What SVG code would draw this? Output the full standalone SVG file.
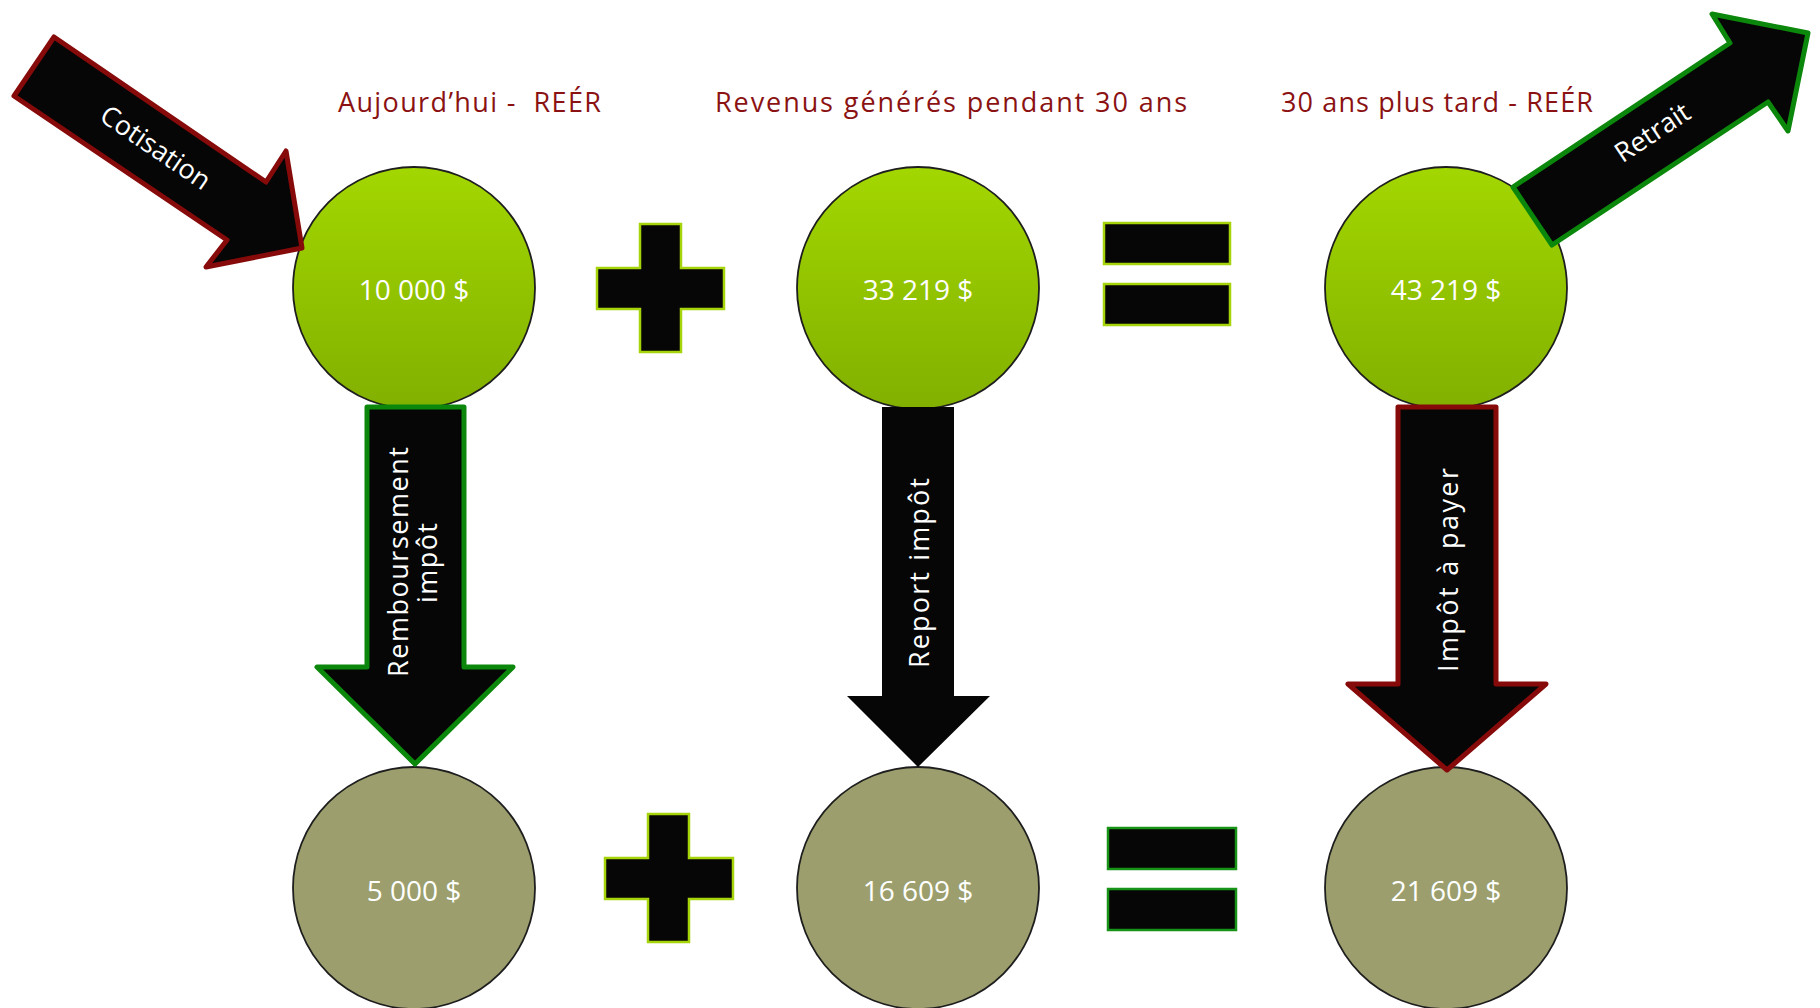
<svg xmlns="http://www.w3.org/2000/svg" width="1820" height="1008" viewBox="0 0 1820 1008">
<defs>
<linearGradient id="gTop" x1="0" y1="0" x2="0" y2="1">
<stop offset="0" stop-color="#A3D700"/>
<stop offset="1" stop-color="#82B000"/>
</linearGradient>
<style>
.title{font-family:"Open Sans","DejaVu Sans",sans-serif;font-weight:400;font-size:27px;fill:#8B1212;}
.num{font-family:"Open Sans","Liberation Sans",sans-serif;font-weight:400;font-size:28px;fill:#FFFFFF;text-anchor:middle;}
.lbl{font-family:"Open Sans","DejaVu Sans",sans-serif;font-weight:400;font-size:27px;fill:#FFFFFF;text-anchor:middle;}
.ctop{fill:url(#gTop);stroke:#1E1E1E;stroke-width:1.8;}
.cbot{fill:#9C9F6D;stroke:#1E1E1E;stroke-width:1.8;}
.sym{fill:#060606;stroke:#A6D40A;stroke-width:2.5;}
.symg{fill:#060606;stroke:#179317;stroke-width:2.5;}
.arr{fill:#060606;stroke-linejoin:round;}
.agreen{stroke:#0B870B;stroke-width:5;}
.ared{stroke:#870A0A;stroke-width:5;}
</style>
</defs>
<rect width="1820" height="1008" fill="#FFFFFF"/>

<g id="titles">
<text class="title" x="338" y="112" textLength="263" xml:space="preserve">Aujourd’hui -  REÉR</text>
<text class="title" x="715" y="112" textLength="472">Revenus générés pendant 30 ans</text>
<text class="title" x="1281" y="112" textLength="312">30 ans plus tard - REÉR</text>
</g>

<g id="node-today">
<circle class="ctop" cx="414" cy="288" r="121"/>
<text class="num" x="414" y="300">10 000 $</text>
</g>
<g id="node-revenue">
<circle class="ctop" cx="918" cy="288" r="121"/>
<text class="num" x="918" y="300">33 219 $</text>
</g>
<g id="node-later">
<circle class="ctop" cx="1446" cy="288" r="121"/>
<text class="num" x="1446" y="300">43 219 $</text>
</g>
<g id="node-refund">
<circle class="cbot" cx="414" cy="888" r="121"/>
<text class="num" x="414" y="901">5 000 $</text>
</g>
<g id="node-deferred">
<circle class="cbot" cx="918" cy="888" r="121"/>
<text class="num" x="918" y="901">16 609 $</text>
</g>
<g id="node-tax">
<circle class="cbot" cx="1446" cy="888" r="121"/>
<text class="num" x="1446" y="901">21 609 $</text>
</g>

<g id="plus-top">
<polygon class="sym" points="640,224 681,224 681,268 724,268 724,309 681,309 681,352 640,352 640,309 597,309 597,268 640,268"/>
</g>
<g id="equals-top">
<rect class="sym" x="1104" y="223" width="126" height="41"/>
<rect class="sym" x="1104" y="284" width="126" height="41"/>
</g>
<g id="plus-bottom">
<polygon class="sym" points="648,814 689,814 689,858 733,858 733,899 689,899 689,942 648,942 648,899 605,899 605,858 648,858"/>
</g>
<g id="equals-bottom">
<rect class="symg" x="1108" y="828" width="128" height="41"/>
<rect class="symg" x="1108" y="889" width="128" height="41"/>
</g>

<g id="connectors">
<g id="arrow-cotisation">
<polygon class="arr ared" points="54,37 266,182 286,151 302,248 206,267 227,240 14,96"/>
<text class="lbl" transform="translate(156,147) rotate(34.3)" x="0" y="10">Cotisation</text>
</g>
<g id="arrow-retrait">
<polygon class="arr agreen" points="1513,187 1730,43 1712,14 1808,33 1788,131 1768,102 1552,245"/>
<text class="lbl" transform="translate(1652,132) rotate(-33.6)" x="0" y="10">Retrait</text>
</g>
<g id="arrow-remboursement">
<polygon class="arr agreen" points="367,407 464,407 464,667 513,667 415,764 317,667 367,667"/>
<text class="lbl" transform="translate(408,562) rotate(-90)" textLength="230">Remboursement</text>
<text class="lbl" transform="translate(437,563) rotate(-90)" textLength="80">impôt</text>
</g>
<g id="arrow-report">
<polygon class="arr" points="882,407 954,407 954,696 990,696 918,767 847,696 882,696"/>
<text class="lbl" transform="translate(929,573) rotate(-90)" textLength="190">Report impôt</text>
</g>
<g id="arrow-impot">
<polygon class="arr ared" points="1398,407 1496,407 1496,684 1546,684 1447,770 1348,684 1398,684"/>
<text class="lbl" transform="translate(1458,570) rotate(-90)" textLength="204">Impôt à payer</text>
</g>
</g>
</svg>
